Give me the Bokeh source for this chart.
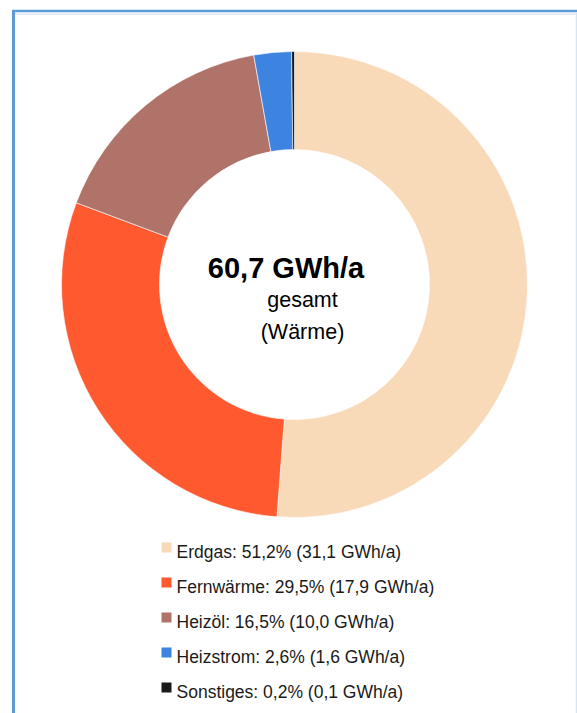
import numpy as np
from bokeh.plotting import figure
from bokeh.models import Range1d, ColumnDataSource
from bokeh.embed import file_html
from bokeh.resources import INLINE
from bokeh.core.properties import value

# ---- data ----
categories = ["Erdgas", "Fernwärme", "Heizöl", "Heizstrom", "Sonstiges"]
shares = [51.2, 29.5, 16.5, 2.6, 0.2]          # percent
energy = [31.1, 17.9, 10.0, 1.6, 0.1]          # GWh/a
colors = ["#F8DAB8", "#FF5A2F", "#B0736A", "#3C84E0", "#1A1A1A"]
total_value = 60.7
unit = "GWh/a"
center_lines = ["gesamt", "(Wärme)"]

FONT = "Liberation Sans"

# ---- layout ----
W, H = 577, 713
cx, cy = 294, 284                      # donut centre, px from figure top-left
R_OUT, R_IN = 233, 135

p = figure(width=W, height=H,
           x_range=Range1d(-cx, W - cx), y_range=Range1d(-(H - cy), cy),
           output_backend="svg", toolbar_location=None, min_border=0,
           x_axis_location=None, y_axis_location=None)
p.grid.visible = False
p.outline_line_color = None
p.background_fill_color = "white"
p.border_fill_color = "white"

# ---- frame decoration (cropped Office chart border) ----
p.segment(x0=[-281], y0=[273.5], x1=[-281], y1=[-(H - cy)], line_color="#5B9BD5", line_width=3)
p.segment(x0=[-282.5], y0=[273.5], x1=[W - cx], y1=[273.5], line_color="#5B9BD5", line_width=2.5)
p.segment(x0=[-279.5], y0=[270.5], x1=[W - cx], y1=[270.5], line_color="#E1E6EC", line_width=1.5)
p.segment(x0=[282], y0=[272], x1=[282], y1=[-(H - cy)], line_color="#D6E5F3", line_width=1.5)

# ---- donut ----
frac = np.array(shares) / np.sum(shares)
cum = np.concatenate([[0.0], np.cumsum(frac)])
start = np.pi / 2 - 2 * np.pi * cum[:-1]
end = np.pi / 2 - 2 * np.pi * cum[1:]

def fmt(v):
    return f"{v:.1f}".replace(".", ",")

labels = [f"{c}: {fmt(s)}% ({fmt(e)} {unit})" for c, s, e in zip(categories, shares, energy)]

src = ColumnDataSource(dict(cat=categories, start=start, end=end, color=colors, label=labels))
p.annular_wedge(x=0, y=0, inner_radius=R_IN, outer_radius=R_OUT,
                start_angle="start", end_angle="end", direction="clock",
                fill_color="color", line_color="white", line_width=0.6, source=src)

# ---- centre text ----
p.text(x=[-8.5], y=[17], text=[f"{fmt(total_value)} {unit}"],
       text_font=value(FONT), text_font_style="bold", text_font_size="29px",
       text_align="center", text_baseline="alphabetic", text_color="#000000")
p.text(x=[8, 8], y=[-15, -47], text=center_lines,
       text_font=value(FONT), text_font_size="21.5px",
       text_align="center", text_baseline="alphabetic", text_color="#000000")

# ---- legend ----
n = len(categories)
row_y = [-263 - 35 * i for i in range(n)]
leg = ColumnDataSource(dict(
    sx=[-128] * n, sy=row_y,
    tx=[-118] * n, ty=[y - 4 for y in row_y],
    color=colors, label=labels))
p.scatter(x="sx", y="sy", marker="square", size=10, fill_color="color",
          line_color=None, source=leg)
p.text(x="tx", y="ty", text="label", text_font=value(FONT), text_font_size="17.5px",
       text_align="left", text_baseline="alphabetic", text_color="#1A1A1A", source=leg)

open("out.html", "w").write(file_html(p, INLINE))
